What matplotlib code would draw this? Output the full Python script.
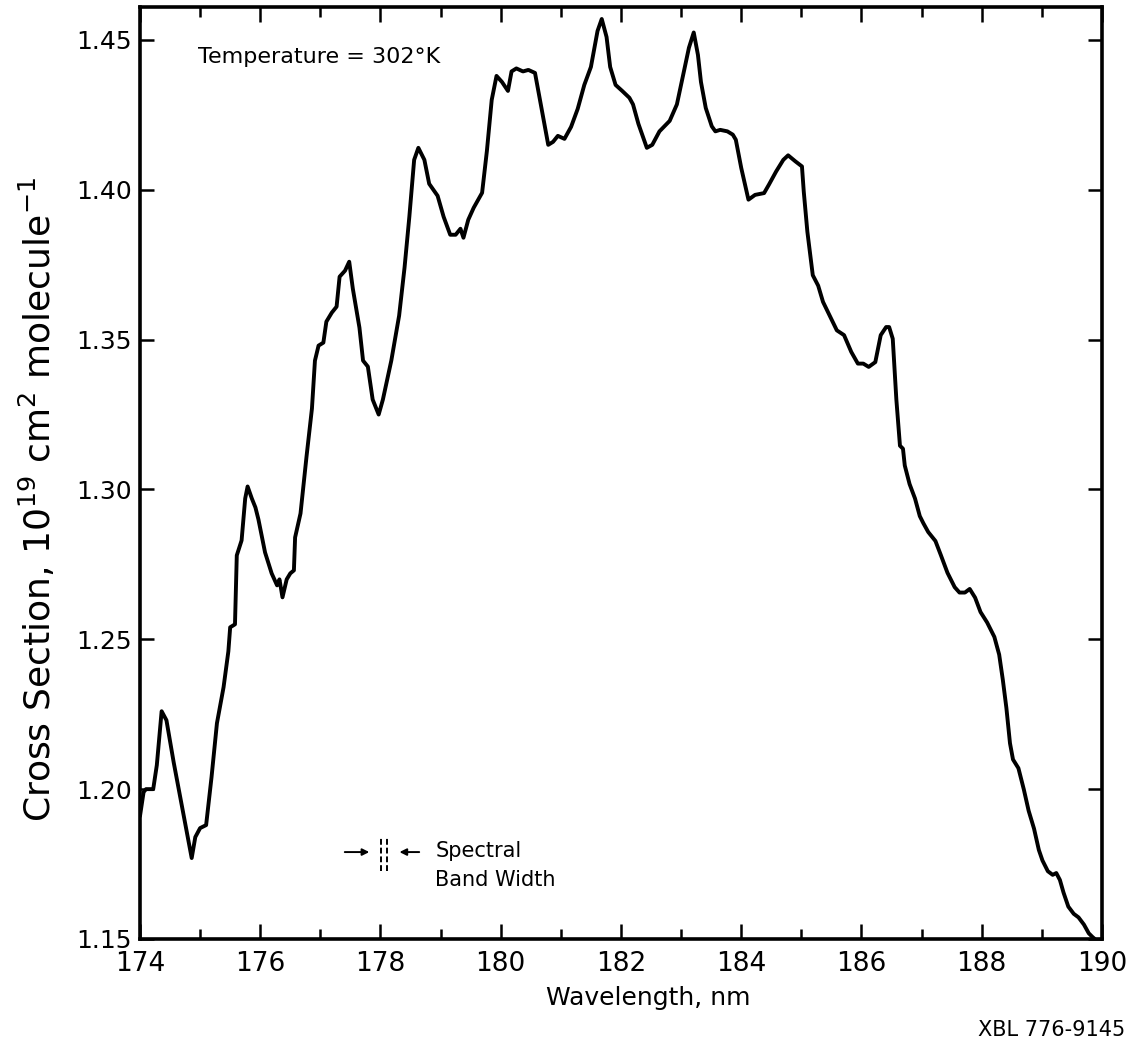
import matplotlib.pyplot as plt
from matplotlib.ticker import MultipleLocator

# absorption cross section
wavelength_nm = [
    174.00, 174.06, 174.10, 174.22, 174.28, 174.36, 174.44, 174.56, 174.72, 174.86,
    174.92, 175.00, 175.10, 175.19, 175.28, 175.39, 175.47, 175.50, 175.58, 175.61,
    175.69, 175.75, 175.79, 175.86, 175.92, 175.97, 176.08, 176.19, 176.28, 176.32,
    176.37, 176.44, 176.50, 176.56, 176.58, 176.67, 176.77, 176.86, 176.91, 176.97,
    177.05, 177.10, 177.19, 177.27, 177.32, 177.41, 177.48, 177.54, 177.65, 177.71,
    177.79, 177.87, 177.97, 178.04, 178.18, 178.31, 178.40, 178.48, 178.56, 178.63,
    178.73, 178.81, 178.95, 179.05, 179.16, 179.25, 179.33, 179.38, 179.46, 179.55,
    179.69, 179.77, 179.85, 179.93, 180.02, 180.12, 180.18, 180.26, 180.37, 180.46,
    180.57, 180.68, 180.79, 180.87, 180.95, 181.06, 181.17, 181.28, 181.39, 181.50,
    181.61, 181.68, 181.76, 181.82, 181.91, 182.02, 182.14, 182.20, 182.29, 182.43,
    182.52, 182.64, 182.81, 182.93, 183.01, 183.13, 183.21, 183.28, 183.33, 183.41,
    183.51, 183.57, 183.65, 183.77, 183.86, 183.91, 184.00, 184.12, 184.23, 184.38,
    184.46, 184.58, 184.70, 184.78, 184.90, 185.01, 185.04, 185.10, 185.19, 185.28,
    185.36, 185.48, 185.59, 185.71, 185.83, 185.94, 186.03, 186.12, 186.23, 186.32,
    186.41, 186.46, 186.52, 186.58, 186.64, 186.69, 186.72, 186.80, 186.89, 186.97,
    187.03, 187.11, 187.23, 187.32, 187.43, 187.55, 187.63, 187.72, 187.80, 187.89,
    187.98, 188.09, 188.21, 188.29, 188.35, 188.41, 188.47, 188.52, 188.61, 188.70,
    188.78, 188.87, 188.95, 189.01, 189.10, 189.18, 189.24, 189.30, 189.36, 189.44,
    189.53, 189.61, 189.70, 189.78, 189.84, 189.88,
]
cross_section = [
    1.191, 1.199, 1.200, 1.200, 1.208, 1.226, 1.223, 1.209, 1.192, 1.177,
    1.184, 1.187, 1.188, 1.204, 1.222, 1.234, 1.246, 1.254, 1.255, 1.278,
    1.283, 1.297, 1.301, 1.297, 1.294, 1.290, 1.279, 1.272, 1.268, 1.270,
    1.264, 1.270, 1.272, 1.273, 1.284, 1.292, 1.311, 1.327, 1.343, 1.348,
    1.349, 1.356, 1.359, 1.361, 1.371, 1.373, 1.376, 1.367, 1.354, 1.343,
    1.341, 1.330, 1.325, 1.330, 1.343, 1.358, 1.374, 1.391, 1.410, 1.414,
    1.410, 1.402, 1.398, 1.391, 1.385, 1.385, 1.387, 1.384, 1.390, 1.394,
    1.399, 1.413, 1.430, 1.438, 1.436, 1.433, 1.4395, 1.4405, 1.4395, 1.440,
    1.439, 1.427, 1.415, 1.416, 1.418, 1.417, 1.421, 1.427, 1.435, 1.441,
    1.453, 1.457, 1.451, 1.441, 1.435, 1.433, 1.4307, 1.4285, 1.422, 1.414,
    1.415, 1.4195, 1.423, 1.4285, 1.436, 1.4474, 1.4525, 1.445, 1.436, 1.4273,
    1.4212, 1.4195, 1.420, 1.4195, 1.4184, 1.4167, 1.4073, 1.3967, 1.3983, 1.3989,
    1.4017, 1.4061, 1.410, 1.4115, 1.4095, 1.4078, 1.3994, 1.386, 1.3715, 1.368,
    1.3626, 1.3576, 1.3531, 1.3515, 1.3459, 1.342, 1.342, 1.3409, 1.3425, 1.3515,
    1.3542, 1.3542, 1.3503, 1.330, 1.3146, 1.3136, 1.308, 1.3018, 1.297, 1.2911,
    1.2887, 1.2858, 1.2828, 1.2781, 1.2722, 1.2674, 1.2656, 1.2656, 1.2668, 1.2639,
    1.2591, 1.2556, 1.2508, 1.2449, 1.2366, 1.2271, 1.2153, 1.2099, 1.207, 1.1999,
    1.1928, 1.1868, 1.1797, 1.1762, 1.1726, 1.1714, 1.172, 1.1697, 1.1655, 1.1608,
    1.1584, 1.1572, 1.1548, 1.1519, 1.1507, 1.150,
]

x_ticks = [174, 176, 178, 180, 182, 184, 186, 188, 190]
y_ticks = [1.15, 1.20, 1.25, 1.30, 1.35, 1.40, 1.45]
y_tick_labels = ["1.15", "1.20", "1.25", "1.30", "1.35", "1.40", "1.45"]

plt.rcParams['font.family'] = ['DejaVu Sans']

fig = plt.figure(figsize=(11.39, 10.44), dpi=100)
ax = fig.add_axes([0.1229, 0.1006, 0.8446, 0.8927])

ax.plot(wavelength_nm, cross_section, color='black', linewidth=2.8,
        solid_joinstyle='round', solid_capstyle='round')

ax.set_xlim(174, 190)
ax.set_ylim(1.15, 1.461)

ax.set_xticks(x_ticks)
ax.set_xticklabels([str(t) for t in x_ticks])
ax.xaxis.set_minor_locator(MultipleLocator(1))
ax.set_yticks(y_ticks)
ax.set_yticklabels(y_tick_labels)

ax.tick_params(axis='both', which='both', direction='in', top=True, right=True, color='black')
ax.tick_params(axis='x', which='major', length=11, width=1.8, labelsize=19, pad=9)
ax.tick_params(axis='x', which='minor', length=7, width=1.8)
ax.tick_params(axis='y', which='major', length=10, width=1.8, labelsize=18, pad=6)
ax.tick_params(axis='x', which='both', labeltop=False)
ax.tick_params(axis='y', labelright=False)

for sp in ax.spines.values():
    sp.set_linewidth(2.6)

ax.set_xlabel("Wavelength, nm", fontsize=18, va='top')
ax.xaxis.set_label_coords(0.528, -0.05)
ax.set_ylabel(r"Cross Section, 10$^{19}$ cm$^{2}$ molecule$^{-1}$", fontsize=26)
ax.yaxis.set_label_coords(-0.085, 0.472)

ax.text(174.97, 1.4443, "Temperature = 302°K", fontsize=16, ha='left', va='center')

# spectral band width marker
ax.annotate("", xy=(177.86, 1.179), xytext=(177.36, 1.179),
            arrowprops=dict(arrowstyle='-|>', color='black', lw=1.4, mutation_scale=10))
ax.annotate("", xy=(178.27, 1.179), xytext=(178.69, 1.179),
            arrowprops=dict(arrowstyle='-|>', color='black', lw=1.4, mutation_scale=10))
ax.plot([178.01, 178.01], [1.1727, 1.1843], color='black', lw=1.4, ls=(0, (3, 1.5)))
ax.plot([178.11, 178.11], [1.1727, 1.1843], color='black', lw=1.4, ls=(0, (3, 1.5)))
ax.text(178.91, 1.1793, "Spectral", fontsize=15, ha='left', va='center')
ax.text(178.91, 1.1697, "Band Width", fontsize=15, ha='left', va='center')

fig.text(0.988, 0.0134, "XBL 776-9145", fontsize=15, ha='right', va='center')

fig.savefig("out.png", dpi=100)
